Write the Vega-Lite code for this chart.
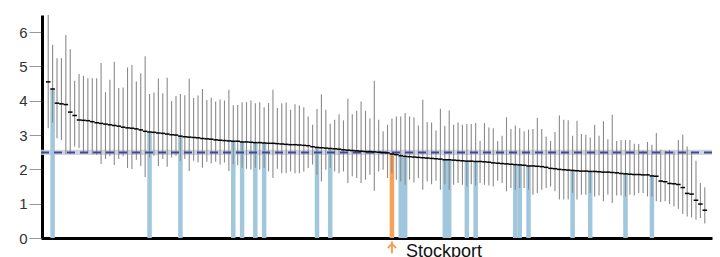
{
  "$schema": "https://vega.github.io/schema/vega-lite/v6.json",
  "width": 671,
  "height": 223,
  "autosize": {"type": "none"},
  "padding": {"left": 41, "top": 15, "right": 8, "bottom": 19},
  "config": {
    "view": {"stroke": null},
    "font": "Liberation Sans",
    "axisY": {"domainColor": "#000", "domainWidth": 3, "tickColor": "#999", "tickSize": 13, "labelFontSize": 15, "labelColor": "#333", "labelPadding": 2, "grid": false, "offset": -1, "zindex": 1, "values": [0, 1, 2, 3, 4, 5, 6]},
    "axisX": {"domainColor": "#000", "domainWidth": 3, "ticks": false, "labels": false, "grid": false}
  },
  "datasets": {
    "areas": [
      {"r":1,"v":4.55,"lo":3.20,"hi":6.50,"g":"x"},
      {"r":2,"v":4.34,"lo":3.36,"hi":5.63,"g":"n"},
      {"r":3,"v":3.93,"lo":2.91,"hi":5.24,"g":"x"},
      {"r":4,"v":3.91,"lo":2.86,"hi":5.24,"g":"x"},
      {"r":5,"v":3.89,"lo":2.45,"hi":5.92,"g":"x"},
      {"r":6,"v":3.67,"lo":2.45,"hi":5.50,"g":"x"},
      {"r":7,"v":3.57,"lo":2.67,"hi":4.58,"g":"x"},
      {"r":8,"v":3.44,"lo":2.62,"hi":4.78,"g":"x"},
      {"r":9,"v":3.43,"lo":2.47,"hi":4.73,"g":"x"},
      {"r":10,"v":3.42,"lo":2.47,"hi":4.66,"g":"x"},
      {"r":11,"v":3.39,"lo":2.44,"hi":4.66,"g":"x"},
      {"r":12,"v":3.36,"lo":2.43,"hi":4.66,"g":"x"},
      {"r":13,"v":3.34,"lo":2.16,"hi":5.10,"g":"x"},
      {"r":14,"v":3.32,"lo":2.30,"hi":4.25,"g":"x"},
      {"r":15,"v":3.30,"lo":2.38,"hi":4.61,"g":"x"},
      {"r":16,"v":3.28,"lo":2.13,"hi":5.14,"g":"x"},
      {"r":17,"v":3.26,"lo":2.30,"hi":4.37,"g":"x"},
      {"r":18,"v":3.23,"lo":2.38,"hi":4.39,"g":"x"},
      {"r":19,"v":3.21,"lo":2.04,"hi":4.97,"g":"x"},
      {"r":20,"v":3.20,"lo":2.01,"hi":5.04,"g":"x"},
      {"r":21,"v":3.18,"lo":2.28,"hi":4.56,"g":"x"},
      {"r":22,"v":3.15,"lo":2.10,"hi":4.80,"g":"x"},
      {"r":23,"v":3.11,"lo":1.78,"hi":5.30,"g":"x"},
      {"r":24,"v":3.09,"lo":2.35,"hi":4.20,"g":"n"},
      {"r":25,"v":3.08,"lo":2.40,"hi":4.24,"g":"x"},
      {"r":26,"v":3.06,"lo":2.10,"hi":4.65,"g":"x"},
      {"r":27,"v":3.05,"lo":2.30,"hi":4.22,"g":"x"},
      {"r":28,"v":3.03,"lo":2.08,"hi":4.67,"g":"x"},
      {"r":29,"v":3.01,"lo":2.35,"hi":3.99,"g":"x"},
      {"r":30,"v":3.00,"lo":2.40,"hi":4.14,"g":"x"},
      {"r":31,"v":2.97,"lo":2.25,"hi":4.20,"g":"n"},
      {"r":32,"v":2.95,"lo":2.30,"hi":4.16,"g":"x"},
      {"r":33,"v":2.94,"lo":1.95,"hi":4.64,"g":"x"},
      {"r":34,"v":2.93,"lo":2.25,"hi":4.08,"g":"x"},
      {"r":35,"v":2.92,"lo":2.20,"hi":4.15,"g":"x"},
      {"r":36,"v":2.90,"lo":2.05,"hi":4.34,"g":"x"},
      {"r":37,"v":2.89,"lo":2.22,"hi":4.02,"g":"x"},
      {"r":38,"v":2.88,"lo":2.18,"hi":4.09,"g":"x"},
      {"r":39,"v":2.86,"lo":2.22,"hi":3.98,"g":"x"},
      {"r":40,"v":2.85,"lo":2.14,"hi":4.04,"g":"x"},
      {"r":41,"v":2.84,"lo":2.20,"hi":4.01,"g":"x"},
      {"r":42,"v":2.83,"lo":1.95,"hi":4.32,"g":"x"},
      {"r":43,"v":2.82,"lo":2.15,"hi":3.87,"g":"n"},
      {"r":44,"v":2.82,"lo":2.12,"hi":3.88,"g":"x"},
      {"r":45,"v":2.80,"lo":2.05,"hi":3.96,"g":"n"},
      {"r":46,"v":2.80,"lo":2.02,"hi":3.96,"g":"x"},
      {"r":47,"v":2.79,"lo":2.00,"hi":4.01,"g":"x"},
      {"r":48,"v":2.78,"lo":2.05,"hi":3.93,"g":"n"},
      {"r":49,"v":2.78,"lo":2.00,"hi":3.96,"g":"x"},
      {"r":50,"v":2.77,"lo":2.04,"hi":3.81,"g":"n"},
      {"r":51,"v":2.76,"lo":1.94,"hi":3.93,"g":"x"},
      {"r":52,"v":2.76,"lo":1.75,"hi":4.32,"g":"x"},
      {"r":53,"v":2.75,"lo":2.02,"hi":3.79,"g":"x"},
      {"r":54,"v":2.74,"lo":1.89,"hi":3.93,"g":"x"},
      {"r":55,"v":2.73,"lo":1.89,"hi":3.95,"g":"x"},
      {"r":56,"v":2.72,"lo":1.94,"hi":3.74,"g":"x"},
      {"r":57,"v":2.72,"lo":1.89,"hi":3.90,"g":"x"},
      {"r":58,"v":2.71,"lo":1.89,"hi":3.86,"g":"x"},
      {"r":59,"v":2.70,"lo":1.94,"hi":3.81,"g":"x"},
      {"r":60,"v":2.69,"lo":2.04,"hi":3.54,"g":"x"},
      {"r":61,"v":2.66,"lo":2.14,"hi":3.30,"g":"x"},
      {"r":62,"v":2.64,"lo":1.84,"hi":3.76,"g":"n"},
      {"r":63,"v":2.63,"lo":1.65,"hi":4.19,"g":"x"},
      {"r":64,"v":2.62,"lo":1.99,"hi":3.74,"g":"x"},
      {"r":65,"v":2.61,"lo":2.04,"hi":3.33,"g":"n"},
      {"r":66,"v":2.60,"lo":1.94,"hi":3.45,"g":"x"},
      {"r":67,"v":2.59,"lo":1.89,"hi":3.61,"g":"x"},
      {"r":68,"v":2.57,"lo":1.94,"hi":3.43,"g":"x"},
      {"r":69,"v":2.56,"lo":1.60,"hi":4.06,"g":"x"},
      {"r":70,"v":2.55,"lo":1.80,"hi":3.61,"g":"x"},
      {"r":71,"v":2.54,"lo":1.75,"hi":3.71,"g":"x"},
      {"r":72,"v":2.53,"lo":1.60,"hi":3.98,"g":"x"},
      {"r":73,"v":2.52,"lo":1.70,"hi":3.71,"g":"x"},
      {"r":74,"v":2.52,"lo":1.84,"hi":3.48,"g":"x"},
      {"r":75,"v":2.51,"lo":1.38,"hi":4.58,"g":"x"},
      {"r":76,"v":2.50,"lo":1.94,"hi":3.45,"g":"x"},
      {"r":77,"v":2.49,"lo":1.99,"hi":3.11,"g":"x"},
      {"r":78,"v":2.48,"lo":1.75,"hi":3.30,"g":"x"},
      {"r":79,"v":2.45,"lo":1.89,"hi":3.48,"g":"s"},
      {"r":80,"v":2.43,"lo":1.70,"hi":3.54,"g":"x"},
      {"r":81,"v":2.40,"lo":1.65,"hi":3.54,"g":"n"},
      {"r":82,"v":2.38,"lo":1.55,"hi":3.64,"g":"n"},
      {"r":83,"v":2.37,"lo":1.70,"hi":3.54,"g":"x"},
      {"r":84,"v":2.36,"lo":1.62,"hi":3.52,"g":"x"},
      {"r":85,"v":2.35,"lo":1.75,"hi":3.28,"g":"x"},
      {"r":86,"v":2.34,"lo":1.41,"hi":4.03,"g":"x"},
      {"r":87,"v":2.33,"lo":1.65,"hi":3.38,"g":"x"},
      {"r":88,"v":2.32,"lo":1.57,"hi":3.37,"g":"x"},
      {"r":89,"v":2.31,"lo":1.67,"hi":3.13,"g":"x"},
      {"r":90,"v":2.30,"lo":1.41,"hi":3.77,"g":"x"},
      {"r":91,"v":2.28,"lo":1.57,"hi":3.27,"g":"n"},
      {"r":92,"v":2.28,"lo":1.41,"hi":3.72,"g":"n"},
      {"r":93,"v":2.27,"lo":1.55,"hi":3.30,"g":"x"},
      {"r":94,"v":2.26,"lo":1.60,"hi":3.37,"g":"x"},
      {"r":95,"v":2.25,"lo":1.55,"hi":3.30,"g":"x"},
      {"r":96,"v":2.24,"lo":1.50,"hi":3.32,"g":"n"},
      {"r":97,"v":2.24,"lo":1.57,"hi":3.32,"g":"x"},
      {"r":98,"v":2.23,"lo":1.53,"hi":3.35,"g":"n"},
      {"r":99,"v":2.23,"lo":1.60,"hi":2.83,"g":"x"},
      {"r":100,"v":2.22,"lo":1.55,"hi":3.35,"g":"x"},
      {"r":101,"v":2.21,"lo":1.53,"hi":3.22,"g":"x"},
      {"r":102,"v":2.19,"lo":1.50,"hi":3.20,"g":"x"},
      {"r":103,"v":2.18,"lo":1.67,"hi":2.83,"g":"x"},
      {"r":104,"v":2.17,"lo":1.60,"hi":2.98,"g":"x"},
      {"r":105,"v":2.16,"lo":1.36,"hi":3.52,"g":"x"},
      {"r":106,"v":2.15,"lo":1.46,"hi":3.18,"g":"x"},
      {"r":107,"v":2.14,"lo":1.41,"hi":3.28,"g":"n"},
      {"r":108,"v":2.13,"lo":1.46,"hi":3.20,"g":"n"},
      {"r":109,"v":2.12,"lo":1.46,"hi":3.11,"g":"x"},
      {"r":110,"v":2.10,"lo":1.41,"hi":3.16,"g":"n"},
      {"r":111,"v":2.10,"lo":1.26,"hi":3.18,"g":"x"},
      {"r":112,"v":2.09,"lo":1.31,"hi":3.50,"g":"x"},
      {"r":113,"v":2.08,"lo":1.41,"hi":3.18,"g":"x"},
      {"r":114,"v":2.06,"lo":1.46,"hi":2.96,"g":"x"},
      {"r":115,"v":2.03,"lo":1.50,"hi":2.83,"g":"x"},
      {"r":116,"v":2.02,"lo":1.36,"hi":3.09,"g":"x"},
      {"r":117,"v":2.00,"lo":1.12,"hi":3.57,"g":"x"},
      {"r":118,"v":1.99,"lo":1.12,"hi":3.45,"g":"x"},
      {"r":119,"v":1.98,"lo":1.12,"hi":3.43,"g":"x"},
      {"r":120,"v":1.97,"lo":1.31,"hi":2.98,"g":"n"},
      {"r":121,"v":1.96,"lo":1.12,"hi":3.42,"g":"x"},
      {"r":122,"v":1.95,"lo":1.26,"hi":3.03,"g":"x"},
      {"r":123,"v":1.95,"lo":1.26,"hi":3.01,"g":"x"},
      {"r":124,"v":1.94,"lo":1.31,"hi":2.93,"g":"n"},
      {"r":125,"v":1.94,"lo":1.21,"hi":3.30,"g":"x"},
      {"r":126,"v":1.93,"lo":1.24,"hi":2.98,"g":"x"},
      {"r":127,"v":1.92,"lo":1.07,"hi":3.40,"g":"x"},
      {"r":128,"v":1.92,"lo":1.26,"hi":2.88,"g":"x"},
      {"r":129,"v":1.91,"lo":1.02,"hi":3.59,"g":"x"},
      {"r":130,"v":1.90,"lo":1.24,"hi":2.83,"g":"x"},
      {"r":131,"v":1.88,"lo":1.24,"hi":2.86,"g":"x"},
      {"r":132,"v":1.87,"lo":1.21,"hi":2.86,"g":"n"},
      {"r":133,"v":1.86,"lo":1.26,"hi":2.86,"g":"x"},
      {"r":134,"v":1.85,"lo":1.24,"hi":2.75,"g":"x"},
      {"r":135,"v":1.85,"lo":1.31,"hi":2.74,"g":"x"},
      {"r":136,"v":1.84,"lo":1.31,"hi":2.55,"g":"x"},
      {"r":137,"v":1.84,"lo":1.21,"hi":2.80,"g":"x"},
      {"r":138,"v":1.81,"lo":1.21,"hi":2.72,"g":"n"},
      {"r":139,"v":1.80,"lo":1.07,"hi":3.06,"g":"x"},
      {"r":140,"v":1.66,"lo":1.05,"hi":2.57,"g":"x"},
      {"r":141,"v":1.64,"lo":1.07,"hi":2.54,"g":"x"},
      {"r":142,"v":1.59,"lo":0.99,"hi":2.57,"g":"x"},
      {"r":143,"v":1.58,"lo":0.92,"hi":2.52,"g":"x"},
      {"r":144,"v":1.56,"lo":0.85,"hi":2.86,"g":"x"},
      {"r":145,"v":1.47,"lo":0.70,"hi":3.01,"g":"x"},
      {"r":146,"v":1.30,"lo":0.63,"hi":2.67,"g":"x"},
      {"r":147,"v":1.28,"lo":0.60,"hi":2.48,"g":"x"},
      {"r":148,"v":1.10,"lo":0.53,"hi":2.25,"g":"x"},
      {"r":149,"v":0.99,"lo":0.58,"hi":1.60,"g":"x"},
      {"r":150,"v":0.81,"lo":0.42,"hi":1.48,"g":"x"}
    ]
  },
  "layer": [
    {
      "data": {"values": [{"lo": 2.42, "hi": 2.57}]},
      "mark": {"type": "rect", "color": "#c9cce3", "opacity": 0.85},
      "encoding": {
        "y": {"field": "lo", "type": "quantitative", "title": null, "scale": {"domain": [0, 6.5], "nice": false}},
        "y2": {"field": "hi"}
      }
    },
    {
      "data": {"name": "areas"},
      "transform": [{"filter": "datum.g != 'x'"}],
      "mark": {"type": "bar", "width": 4.5},
      "encoding": {
        "x": {"field": "r", "type": "quantitative", "title": null, "scale": {"domain": [0.5, 150.5], "nice": false, "zero": false}},
        "y": {"field": "v", "type": "quantitative", "title": null, "scale": {"domain": [0, 6.5], "nice": false}},
        "color": {"field": "g", "type": "nominal", "scale": {"domain": ["n", "s"], "range": ["#a1c7dd", "#f7a057"]}, "legend": null}
      }
    },
    {
      "data": {"name": "areas"},
      "mark": {"type": "rule", "color": "#8a8a8a", "strokeWidth": 1.1},
      "encoding": {
        "x": {"field": "r", "type": "quantitative", "title": null},
        "y": {"field": "lo", "type": "quantitative", "title": null},
        "y2": {"field": "hi"}
      }
    },
    {
      "data": {"values": [{"avg": 2.49}]},
      "mark": {"type": "rule", "color": "#3f4a8a", "strokeWidth": 2, "strokeDash": [8, 5]},
      "encoding": {
        "y": {"field": "avg", "type": "quantitative", "title": null}
      }
    },
    {
      "data": {"name": "areas"},
      "mark": {"type": "tick", "orient": "horizontal", "color": "#000", "size": 4.6, "thickness": 1.5, "opacity": 1},
      "encoding": {
        "x": {"field": "r", "type": "quantitative", "title": null},
        "y": {"field": "v", "type": "quantitative", "title": null}
      }
    },
    {
      "data": {"values": [{"name": "Stockport", "r": 79}]},
      "mark": {"type": "rule", "color": "#f7a057", "strokeWidth": 2},
      "encoding": {
        "x": {"field": "r", "type": "quantitative", "title": null},
        "y": {"datum": -0.1},
        "y2": {"datum": -0.45}
      }
    },
    {
      "data": {"values": [{"name": "Stockport", "r": 79}]},
      "mark": {"type": "point", "shape": "M-1,1L0,0L1,1", "filled": false, "color": "#f7a057", "strokeWidth": 2, "size": 70, "opacity": 1},
      "encoding": {
        "x": {"field": "r", "type": "quantitative", "title": null},
        "y": {"datum": -0.17}
      }
    },
    {
      "data": {"values": [{"name": "Stockport", "r": 79}]},
      "mark": {"type": "text", "align": "left", "baseline": "alphabetic", "dx": 14, "fontSize": 18, "color": "#111"},
      "encoding": {
        "x": {"field": "r", "type": "quantitative", "title": null},
        "y": {"datum": -0.56},
        "text": {"field": "name"}
      }
    }
  ]
}
